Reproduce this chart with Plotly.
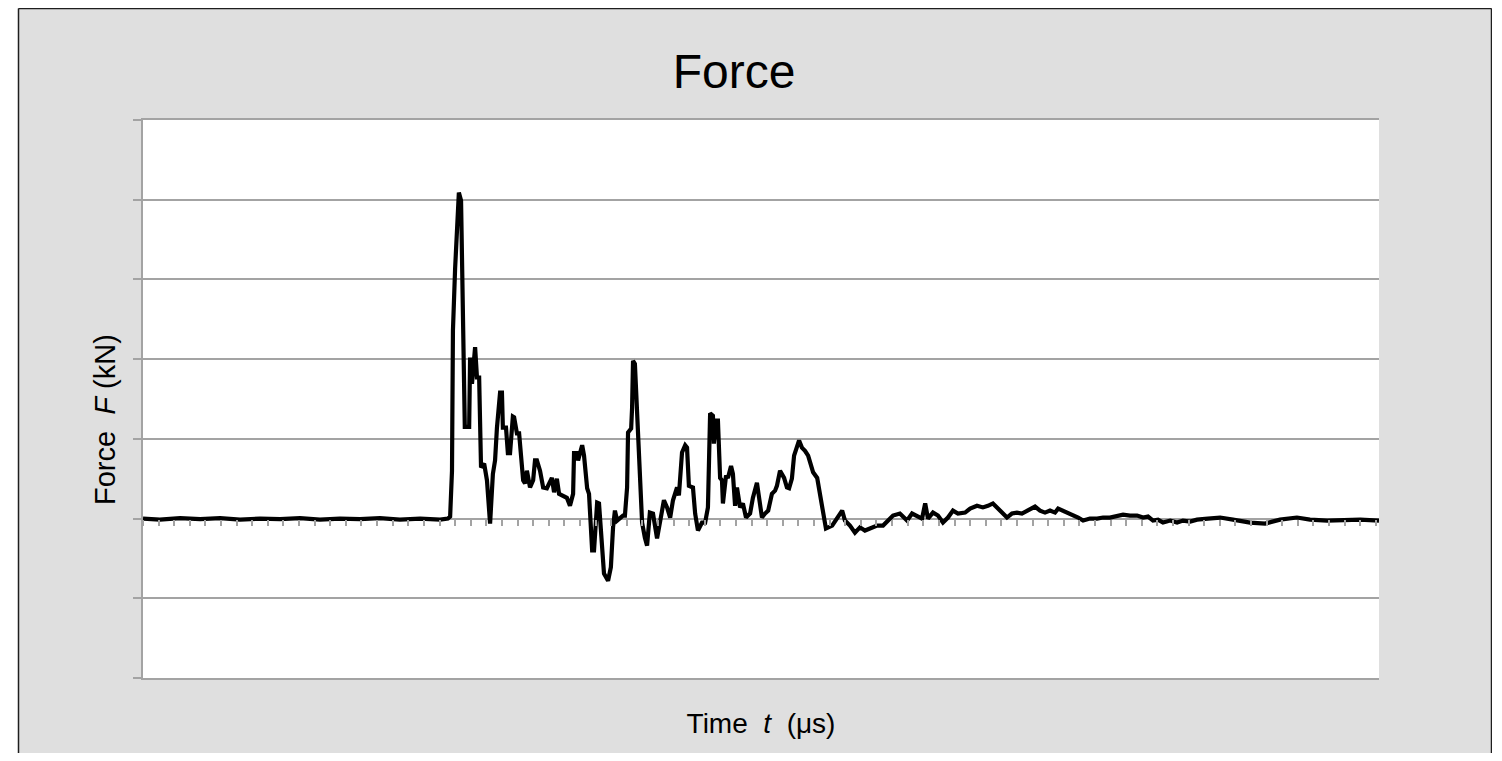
import plotly.graph_objects as go

# ---- data ----
time_us = [
    0, 5.4, 11.9, 18.3, 24.7, 31.1, 37.5, 43.9, 50.3, 56.7, 63.1, 69.5, 75.9, 82.3, 88.8, 95.2, 97.7, 98.4,
    99.0, 99.3, 100.0, 100.6, 101.2, 101.9, 102.2, 102.5, 103.1, 104.5,
    104.8, 105.4, 106.4, 107.0, 107.7, 108.3, 109.3, 110.2, 111.2, 112.1, 112.8, 113.4, 114.4, 115.0,
    115.3, 116.3, 116.9, 117.6, 118.5, 118.9, 119.8, 120.5, 121.8, 122.4, 123.0, 124.0, 125.0, 125.6,
    126.2, 127.2, 128.2, 129.4, 131.0, 131.7, 132.6, 133.3, 134.6, 135.8, 136.8, 137.8, 138.1, 139.1,
    139.4, 140.7, 141.3, 142.3, 142.9, 143.9, 144.5, 145.5, 146.1, 147.1, 147.7, 149.0, 149.9, 150.6,
    151.2, 151.9, 152.8, 153.8, 154.4, 155.1, 155.4, 156.4, 156.7, 157.0, 157.6, 158.6, 159.2, 159.9,
    160.8, 161.5, 162.4, 163.4, 164.7, 166.0, 166.9, 167.9, 168.9, 169.8, 171.1, 171.7, 172.7, 173.7,
    174.3, 174.9, 176.2, 176.9, 177.8, 179.1, 180.1, 181.0, 181.7, 182.6, 182.9, 183.6, 184.2, 184.9,
    185.5, 185.8, 186.8, 187.4, 188.4, 189.0, 189.7, 190.3, 191.3, 192.2, 193.2, 194.5, 195.4, 196.7,
    197.4, 198.3, 199.3, 200.3, 201.5, 202.5, 203.1, 204.1, 205.4, 206.3, 207.0, 207.9, 208.6, 209.5,
    210.2, 211.1, 212.1, 213.1, 214.3, 214.7, 216.0, 216.9, 217.9, 218.8, 220.8, 222.4, 224.0, 224.9,
    226.5, 228.1, 229.7, 231.3, 232.9, 235.2, 237.1, 238.7, 240.3, 242.5, 244.8, 246.4, 248.0, 249.6,
    250.6, 251.5, 253.1, 254.7, 256.3, 257.9, 259.5, 261.1, 263.4, 265.0, 267.2, 269.1, 270.7, 272.3,
    273.6, 275.2, 276.8, 278.4, 280.0, 281.6, 283.2, 284.8, 285.8, 287.4, 289.0, 290.6, 292.2, 293.2,
    294.8, 296.4, 298.0, 299.6, 301.2, 303.4, 305.7, 307.6, 309.8, 312.1, 314.0, 316.2, 318.5, 320.4,
    322.0, 323.6, 325.2, 326.8, 329.1, 331.3, 333.2, 335.5, 337.7, 341.2, 345.1, 349.2, 354.7, 359.5,
    364.3, 369.7, 373.9, 379.4, 384.5, 390.0, 396.0,
]
force_kN = [
    0, -0.13, 0.05, -0.06, 0.05, -0.13, 0, -0.06, 0.05, -0.13, 0, -0.06, 0.05, -0.13, 0, -0.13, 0, 0.25,
    6.0, 23.6, 31.4, 36.1, 40.9, 39.9, 31.1, 23.2, 11.5, 11.5,
    20.2, 16.9, 21.5, 17.7, 17.7, 6.4, 6.9, 4.8, -0.63, 5.6, 7.3, 11.4, 15.8, 15.8,
    11.4, 11.4, 8.2, 8.2, 12.8, 12.7, 10.7, 10.7, 4.8, 4.4, 6.0, 3.9, 4.8, 7.3,
    7.3, 6.0, 3.9, 3.8, 5.1, 3.3, 5.0, 3.1, 2.9, 2.6, 1.6, 3.1, 8.2, 8.2,
    7.3, 9.2, 7.9, 3.8, 3.1, -4.0, -4.0, 2.0, 1.9, -4.0, -6.9, -7.8, -6.1, -1.1,
    1.0, -0.25, 0, 0.38, 0.38, 3.9, 10.8, 11.3, 13.9, 19.8, 19.4, 10.7, 4.8, -0.5,
    -2.4, -3.4, 0.75, 0.63, -2.5, 0.63, 2.3, 1.4, 0.13, 2.3, 3.9, 2.9, 8.3, 9.2,
    8.9, 4.1, 3.9, 0.63, -1.5, -0.5, -0.5, 1.4, 13.2, 12.9, 9.4, 12.3, 12.3, 5.1,
    4.8, 1.9, 5.4, 5.1, 6.6, 5.6, 1.6, 3.9, 1.4, 1.9, 0.13, 0.63, 2.6, 4.5,
    2.6, 0.13, 0.63, 1.0, 3.1, 3.5, 4.1, 6.0, 5.1, 3.9, 3.8, 5.0, 7.9, 8.9,
    9.8, 8.9, 8.5, 7.9, 6.4, 5.8, 5.1, 3.1, 0.63, -1.25, -0.88, 0.13, 1.0, -0.25,
    -0.88, -1.76, -1.1, -1.5, -1.25, -0.88, -0.88, -0.25, 0.38, 0.63, -0.25, 0.63, 0.38, 0,
    1.9, 0, 0.75, 0.38, -0.5, 0.13, 1.0, 0.63, 0.75, 1.25, 1.6, 1.4, 1.6, 1.9,
    1.4, 0.75, 0.13, 0.63, 0.75, 0.63, 1.0, 1.4, 1.5, 1.0, 0.75, 1.0, 0.75, 1.25,
    1.0, 0.75, 0.38, 0.13, -0.25, 0, 0, 0.13, 0.13, 0.38, 0.5, 0.38, 0.38, 0.13,
    0.25, -0.25, -0.13, -0.5, -0.25, -0.5, -0.25, -0.38, -0.13, 0, 0.13, -0.13, -0.5, -0.63,
    -0.13, 0.13, -0.13, -0.25, -0.13, -0.13, -0.25,
]

x_range = [0, 396]      # μs
y_range = [-20, 50]     # kN
x_tick_step = 5
y_tick_step = 10

title_text = "Force"
x_title = "Time\u00a0\u00a0<i>t</i>\u00a0\u00a0(μs)"
y_title = "Force\u00a0\u00a0<i>F</i>\u00a0(kN)"

# ---- styling / geometry ----
W, H = 1484, 745
ML, MR, MT, MB = 135, 113, 112, 75
PW, PH = W - ML - MR, H - MT - MB
GRID = "#a3a3a3"
BG = "#dfdfdf"
BORDER = "#1e1e1e"
FONT = "Liberation Sans, Arial, sans-serif"


def px_x(fx):
    return (fx - ML) / PW


def px_y(fy):
    return (H - MB - fy) / PH


fig = go.Figure()
fig.add_trace(go.Scatter(
    x=time_us, y=force_kN, mode="lines",
    line=dict(color="black", width=4.2), showlegend=False, hoverinfo="x+y",
))
# helper trace so the zero-crossing tick axis is drawn
fig.add_trace(go.Scatter(
    x=x_range, y=[0, 0], xaxis="x2", mode="lines",
    line=dict(color="rgba(0,0,0,0)", width=0), showlegend=False, hoverinfo="skip",
))

zero_pos = (0 - y_range[0]) / (y_range[1] - y_range[0])

fig.update_layout(
    width=W, height=H,
    margin=dict(l=ML, r=MR, t=MT, b=MB, pad=0),
    paper_bgcolor=BG, plot_bgcolor="white",
    font=dict(family=FONT, color="black"),
    title=dict(text=title_text, x=726 / W, xanchor="center", xref="container",
               y=1 - 63 / H, yanchor="middle", yref="container",
               font=dict(size=48, family=FONT, color="black")),
    xaxis=dict(range=x_range, showgrid=False, zeroline=False, showline=True, mirror=True,
               linecolor=GRID, linewidth=2, ticks="", showticklabels=False,
               title=dict(text=x_title, standoff=34, font=dict(size=28, family=FONT, color="black"))),
    xaxis2=dict(range=x_range, overlaying="x", matches="x", anchor="free", position=zero_pos,
                side="bottom", showgrid=False, zeroline=False, showline=False,
                ticks="outside", ticklen=6, tickwidth=1.5, tickcolor=GRID,
                tick0=0, dtick=x_tick_step, showticklabels=False),
    yaxis=dict(range=y_range, dtick=y_tick_step, tick0=0, showgrid=True, gridcolor=GRID, gridwidth=2,
               zeroline=False, showline=True, linecolor=GRID, linewidth=2,
               ticks="outside", ticklen=8, tickwidth=2, tickcolor=GRID, showticklabels=False),
    annotations=[dict(text=y_title, textangle=-90, xref="paper", yref="paper",
                      x=px_x(97), y=px_y(412), xanchor="center", yanchor="middle",
                      showarrow=False, font=dict(size=29, family=FONT, color="black"))],
    shapes=[
        # white page strip left of the chart frame
        dict(type="rect", xref="paper", yref="paper", x0=px_x(-5), x1=px_x(10), y0=px_y(H + 20), y1=px_y(-20),
             fillcolor="white", line=dict(width=0), layer="above"),
        # chart frame border (left, top, right)
        dict(type="line", xref="paper", yref="paper", x0=px_x(10.5), x1=px_x(10.5), y0=px_y(H + 20), y1=px_y(0.5),
             line=dict(color=BORDER, width=1.5)),
        dict(type="line", xref="paper", yref="paper", x0=px_x(10.5), x1=px_x(1483.5), y0=px_y(0.5), y1=px_y(0.5),
             line=dict(color=BORDER, width=1.5)),
        dict(type="line", xref="paper", yref="paper", x0=px_x(1483.5), x1=px_x(1483.5), y0=px_y(H + 20), y1=px_y(0.5),
             line=dict(color=BORDER, width=1.5)),
    ],
)

fig.write_html("out.html")
